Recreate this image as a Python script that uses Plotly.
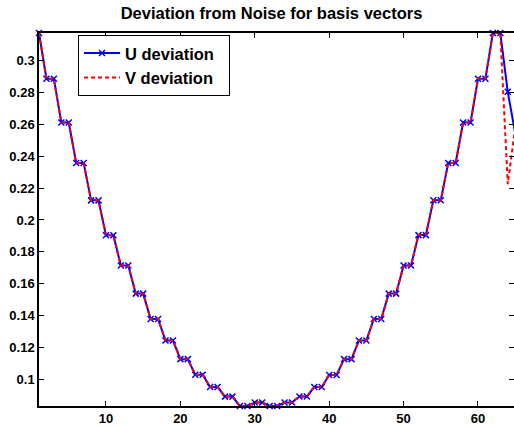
import plotly.graph_objects as go

x_vals = list(range(1, 66))
u_dev = [0.3173,
         0.2886, 0.2886, 0.2611, 0.2611, 0.2358, 0.2358, 0.2123, 0.2123,
         0.1904, 0.1904, 0.1714, 0.1714, 0.1538, 0.1538, 0.1379, 0.1379,
         0.1244, 0.1244, 0.1127, 0.1127, 0.1029, 0.1029, 0.0952, 0.0952,
         0.0892, 0.0892, 0.0833, 0.0833, 0.0855, 0.0855, 0.0833, 0.0833,
         0.0855, 0.0855, 0.0893, 0.0893, 0.0952, 0.0952, 0.1028, 0.1028,
         0.1127, 0.1127, 0.1244, 0.1244, 0.1379, 0.1379, 0.1538, 0.1538,
         0.1714, 0.1714, 0.1905, 0.1905, 0.2124, 0.2124, 0.2358, 0.2358,
         0.2611, 0.2611, 0.2886, 0.2886, 0.3173, 0.3173,
         0.2804, 0.2545]
v_dev = u_dev[:63] + [0.2225, 0.2580]

y_ticks = [0.1, 0.12, 0.14, 0.16, 0.18, 0.2, 0.22, 0.24, 0.26, 0.28, 0.3]
y_tick_text = ["0.1", "0.12", "0.14", "0.16", "0.18", "0.2", "0.22", "0.24", "0.26", "0.28", "0.3"]
x_ticks = [10, 20, 30, 40, 50, 60]

FONT = "Liberation Sans"
PAD = "\u00a0\u00a0"

fig = go.Figure()
fig.add_trace(go.Scatter(
    x=x_vals, y=u_dev, name="U deviation" + PAD, mode="lines+markers",
    line=dict(color="#0000FF", width=2),
    marker=dict(symbol="x-thin", size=6, line=dict(color="#0000FF", width=1.5)),
    cliponaxis=False,
))
fig.add_trace(go.Scatter(
    x=x_vals, y=v_dev, name="V deviation" + PAD, mode="lines",
    line=dict(color="#FF0000", width=2, dash="4px,3px"),
    cliponaxis=False,
))
# invisible helper trace for right-side ticks
fig.add_trace(go.Scatter(x=[1], y=[0.2], yaxis="y2", showlegend=False,
                         mode="markers", marker=dict(opacity=0), hoverinfo="skip"))

ymin, ymax = min(u_dev + v_dev[:64]), max(u_dev)

fig.update_layout(
    width=514, height=426,
    margin=dict(l=39, r=0, t=33, b=18),
    paper_bgcolor="white", plot_bgcolor="white",
    font=dict(family=FONT, size=13, color="black", weight="bold"),
    title=dict(text="Deviation from Noise for basis vectors",
               x=0.4895, xref="paper", xanchor="center",
               y=1 - 13.5 / 426, yref="container", yanchor="middle",
               font=dict(family=FONT, size=16.5, color="black", weight="bold")),
    xaxis=dict(range=[1, 64.84], tickvals=x_ticks, ticks="inside", ticklen=5,
               tickwidth=1, tickcolor="black", showline=True, linecolor="black",
               linewidth=1.5, mirror="ticks", showgrid=False, zeroline=False),
    yaxis=dict(range=[ymin, ymax], tickvals=y_ticks, ticktext=y_tick_text,
               ticks="inside", ticklen=5, tickwidth=1, tickcolor="black",
               showline=True, linecolor="black", linewidth=1.5,
               showgrid=False, zeroline=False),
    yaxis2=dict(range=[ymin, ymax], tickvals=y_ticks, overlaying="y", side="right",
                ticks="inside", ticklen=5, tickwidth=1, tickcolor="black",
                showticklabels=False, showline=False, showgrid=False, zeroline=False),
    legend=dict(x=0.0821, y=0.995, xanchor="left", yanchor="top",
                bordercolor="black", borderwidth=1, bgcolor="white", itemwidth=36,
                font=dict(family=FONT, size=16.5, color="black", weight="bold")),
    showlegend=True,
)

fig.write_html("out.html")
